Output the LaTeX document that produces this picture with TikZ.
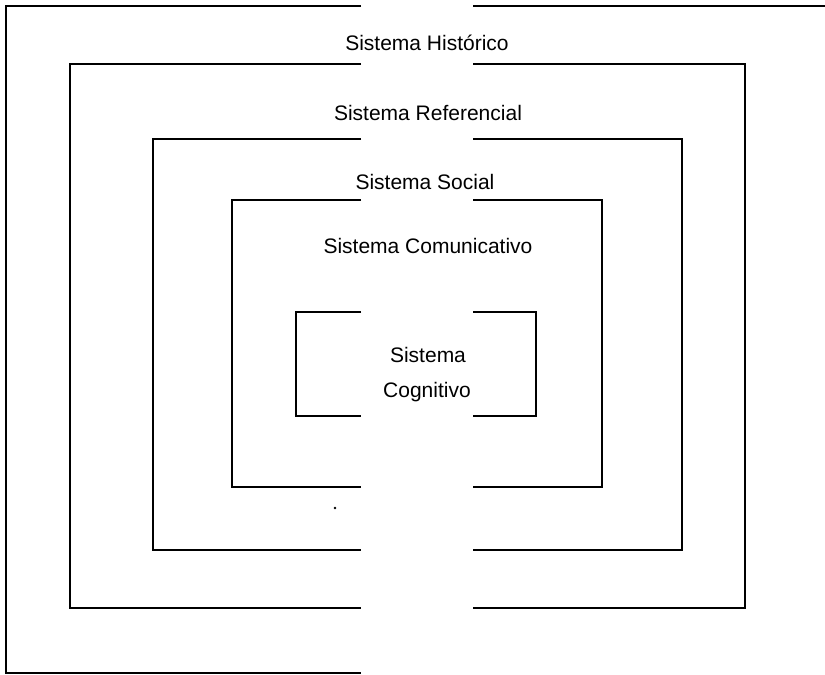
\documentclass[tikz,border=0pt]{standalone}
\usepackage{fontspec}
\setmainfont{Liberation Sans}
\begin{document}
\begin{tikzpicture}[x=1pt,y=-1pt,
  wall/.style={line width=1.7pt, line cap=butt, line join=miter},
  lbl/.style={font=\fontsize{21}{25}\selectfont, inner sep=0pt, anchor=base}]
\useasboundingbox (0,0) rectangle (825,675);
\newcommand\gapframe[4]{%
  \draw[wall] (361,#2) -- (#1,#2) -- (#1,#4) -- (361,#4);
  \draw[wall] (473,#2) -- (#3,#2) -- (#3,#4) -- (473,#4);}
% outer frame (Sistema Historico)
\draw[wall] (361,6) -- (6,6) -- (6,673) -- (361,673);
\draw[wall] (473,6) -- (825,6);
% nested frames
\gapframe{70}{64}{745}{608}
\gapframe{153}{139}{682}{550}
\gapframe{232}{200}{602}{487}
\gapframe{296}{312}{536}{416}
% labels
\node[lbl] (hist) at (427,50) {Sistema Histórico};
\node[lbl] (ref) at (428,120) {Sistema Referencial};
\node[lbl] (soc) at (425,189) {Sistema Social};
\node[lbl] (com) at (428,253) {Sistema Comunicativo};
\node[lbl] (cog1) at (428,362) {Sistema};
\node[lbl] (cog2) at (427,397) {Cognitivo};
\fill (335,508) circle (1.3pt);
\end{tikzpicture}
\end{document}
